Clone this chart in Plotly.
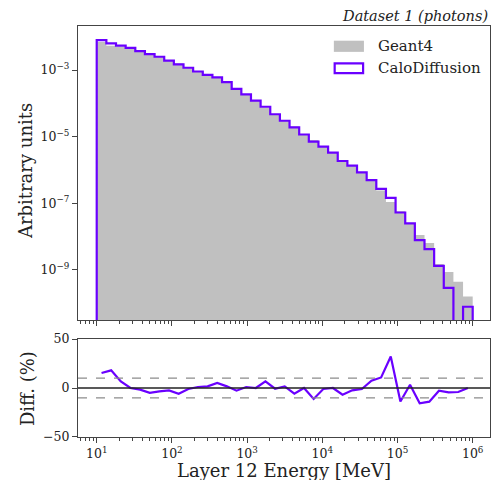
import numpy as np
import plotly.graph_objects as go

# ---- data ----
bin_edges = np.logspace(1, 6, 40)   # 39 log-spaced bins, 10 MeV .. 1 TeV

geant4 = [6.9e-3, 5.35e-3, 5.1e-3, 4.6e-3, 3.78e-3, 3.18e-3, 2.58e-3, 1.95e-3, 1.57e-3, 1.19e-3,
          8.9e-4, 6.97e-4, 5.73e-4, 4.2e-4, 2.77e-4, 1.85e-4, 1.2e-4, 7.45e-5, 4.71e-5, 2.97e-5,
          2.02e-5, 1.16e-5, 7.98e-6, 5.06e-6, 3.31e-6, 2.0e-6, 1.38e-6, 8.6e-7, 4.67e-7, 2.43e-7,
          1.09e-7, 5.75e-8, 2.45e-8, 1.12e-8, 6.5e-9, 1.5e-9, 8.7e-10, 4.4e-10, 1.6e-10]

calodiffusion = [7.9e-3, 6.3e-3, 5.4e-3, 4.6e-3, 3.7e-3, 3.0e-3, 2.5e-3, 1.9e-3, 1.48e-3, 1.17e-3,
                 9.0e-4, 7.1e-4, 6.0e-4, 4.3e-4, 2.7e-4, 1.86e-4, 1.2e-4, 7.9e-5, 4.7e-5, 3.0e-5,
                 1.9e-5, 1.16e-5, 7.1e-6, 5.0e-6, 3.3e-6, 1.86e-6, 1.35e-6, 8.5e-7, 5.0e-7, 2.7e-7,
                 1.45e-7, 5.3e-8, 2.5e-8, 7.9e-9, 4.2e-9, 1.32e-9, 2.9e-10, 0.0, 7.9e-11]

diff_pct = [15.3, 18.0, 6.7, 0.0, -1.7, -5.0, -3.4, -2.4, -5.8, -1.0,
            1.0, 1.7, 5.1, 1.7, -2.7, 1.0, 0.0, 6.7, -0.7, 1.7,
            -5.8, 0.0, -11.2, -1.0, 0.0, -6.8, -2.4, -1.0, 7.4, 10.8,
            32.2, -13.7, 3.4, -15.6, -13.9, -2.8, -4.5, -4.1, 0.0]

x_major = [1e1, 1e2, 1e3, 1e4, 1e5, 1e6]
x_major_text = ["10<sup>1</sup>", "10<sup>2</sup>", "10<sup>3</sup>",
                "10<sup>4</sup>", "10<sup>5</sup>", "10<sup>6</sup>"]
y_major = [1e-3, 1e-5, 1e-7, 1e-9]
y_major_text = ["10<sup>\u22123</sup>", "10<sup>\u22125</sup>",
                "10<sup>\u22127</sup>", "10<sup>\u22129</sup>"]
diff_ticks = [-50, 0, 50]
diff_tick_text = ["\u221250", "0", "50"]

# ---- styling ----
FONT = "DejaVu Serif"
PURPLE = "#6a00ff"
GRAY = "#c0c0c0"
AXC = "#444444"
TXT = "#222222"
FLOOR = 1e-13

edges = np.asarray(bin_edges)
centers = np.sqrt(edges[:-1] * edges[1:])
x_minor = [m * 10.0 ** k for k in range(0, 7) for m in range(2, 10)]


def step_path(vals):
    xs, ys = [edges[0]], [FLOOR]
    for i, v in enumerate(vals):
        v = v if v > 0 else FLOOR
        xs += [edges[i], edges[i + 1]]
        ys += [v, v]
    xs.append(edges[-1])
    ys.append(FLOOR)
    return xs, ys


fig = go.Figure()

gx, gy = step_path(geant4)
fig.add_trace(go.Scatter(x=gx, y=gy, mode="lines", fill="toself", fillcolor=GRAY,
                         line=dict(width=0, color=GRAY), xaxis="x", yaxis="y",
                         showlegend=False, hoverinfo="skip"))
cx, cy = step_path(calodiffusion)
fig.add_trace(go.Scatter(x=cx, y=cy, mode="lines", line=dict(width=2.2, color=PURPLE),
                         xaxis="x", yaxis="y", showlegend=False, hoverinfo="skip"))

fig.add_trace(go.Scatter(x=centers, y=diff_pct, mode="lines",
                         line=dict(width=2.2, color=PURPLE),
                         xaxis="x2", yaxis="y2", showlegend=False))

shapes = [
    dict(type="line", xref="x2 domain", yref="y2", x0=0, x1=1, y0=0, y1=0,
         line=dict(color="#222222", width=1.5)),
    dict(type="line", xref="x2 domain", yref="y2", x0=0, x1=1, y0=10, y1=10,
         line=dict(color="#8c8c8c", width=1.3, dash="dash")),
    dict(type="line", xref="x2 domain", yref="y2", x0=0, x1=1, y0=-10, y1=-10,
         line=dict(color="#8c8c8c", width=1.3, dash="dash")),
    # legend patches
    dict(type="rect", xref="x domain", yref="y domain", x0=0.621, x1=0.694,
         y0=0.912, y1=0.950, fillcolor=GRAY, line=dict(width=0)),
    dict(type="rect", xref="x domain", yref="y domain", x0=0.623, x1=0.692,
         y0=0.840, y1=0.873, fillcolor="rgba(0,0,0,0)",
         line=dict(color=PURPLE, width=2.2)),
]
fig.update_layout(shapes=shapes)

annotations = [
    dict(text="Geant4", xref="x domain", yref="y domain", x=0.723, y=0.931,
         xanchor="left", yanchor="middle", showarrow=False,
         font=dict(family=FONT, size=15, color=TXT)),
    dict(text="CaloDiffusion", xref="x domain", yref="y domain", x=0.723, y=0.857,
         xanchor="left", yanchor="middle", showarrow=False,
         font=dict(family=FONT, size=15, color=TXT)),
    dict(text="<i>Dataset 1 (photons)</i>", xref="x domain", yref="y domain", x=1.0, y=1.0,
         xanchor="right", yanchor="bottom", yshift=0, showarrow=False,
         font=dict(family=FONT, size=14.5, color=TXT)),
    # axis titles
    dict(text="Arbitrary units", xref="paper", yref="paper", x=-0.1286, y=0.647,
         xanchor="center", yanchor="middle", textangle=-90, showarrow=False,
         font=dict(family=FONT, size=18, color=TXT)),
    dict(text="Diff. (%)", xref="paper", yref="paper", x=-0.1238, y=0.119,
         xanchor="center", yanchor="middle", textangle=-90, showarrow=False,
         font=dict(family=FONT, size=18, color=TXT)),
    dict(text="Layer 12 Energy [MeV]", xref="paper", yref="paper", x=0.5, y=-0.0803,
         xanchor="center", yanchor="middle", showarrow=False,
         font=dict(family=FONT, size=18, color=TXT)),
]
fig.update_layout(annotations=annotations)

common_x = dict(type="log", range=[0.751, 6.23], showgrid=False, zeroline=False,
                showline=True, mirror=True, linecolor=AXC, linewidth=1.2,
                ticks="outside", ticklen=5, tickwidth=1, tickcolor=AXC,
                tickmode="array", tickvals=x_major, automargin=False,
                minor=dict(tickmode="array", tickvals=x_minor, ticks="outside",
                           ticklen=3, tickwidth=0.8, tickcolor=AXC))

fig.update_layout(
    width=491, height=480,
    margin=dict(l=78, r=1, t=26, b=43),
    paper_bgcolor="white", plot_bgcolor="white",
    font=dict(family=FONT, size=12.5, color=TXT),
    xaxis=dict(domain=[0, 1], anchor="y", showticklabels=False, **common_x),
    yaxis=dict(domain=[0.2847, 1], anchor="x", type="log", range=[-10.5, -1.68],
               showgrid=False, zeroline=False, showline=True, mirror=True,
               linecolor=AXC, linewidth=1.2, ticks="outside", ticklen=5,
               tickcolor=AXC, tickmode="array", tickvals=y_major, automargin=False,
               ticktext=y_major_text, tickfont=dict(family=FONT, size=12.5, color=TXT)),
    xaxis2=dict(domain=[0, 1], anchor="y2", matches="x", ticktext=x_major_text,
                tickfont=dict(family=FONT, size=12.5, color=TXT), **common_x),
    yaxis2=dict(domain=[0, 0.2384], anchor="x2", range=[-50, 50], showgrid=False,
                zeroline=False, showline=True, mirror=True, linecolor=AXC, linewidth=1.2,
                ticks="outside", ticklen=5, tickcolor=AXC, tickmode="array",
                tickvals=diff_ticks, ticktext=diff_tick_text, automargin=False,
                tickfont=dict(family=FONT, size=12.5, color=TXT)),
)

fig.write_html("out.html",
               config={"displayModeBar": False},
               post_script="document.body.style.margin='0';"
                           "document.body.style.overflow='hidden';")
